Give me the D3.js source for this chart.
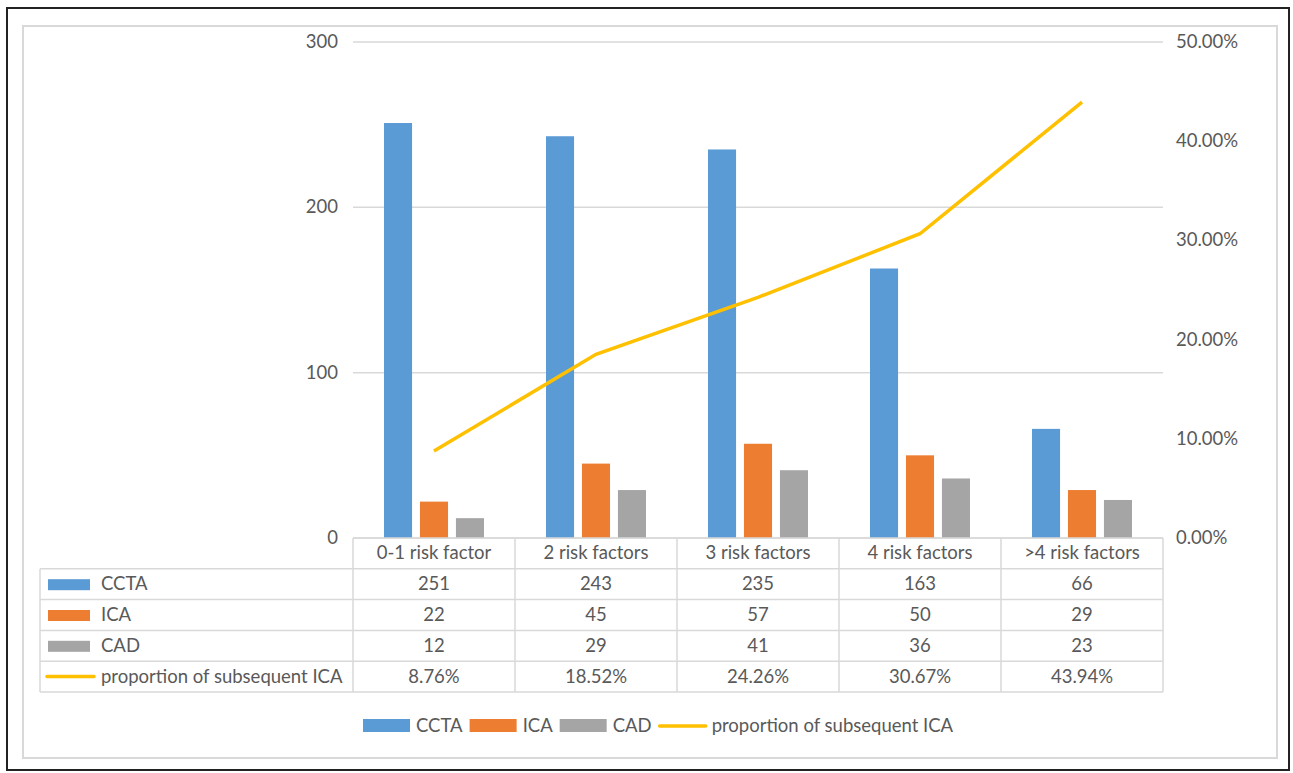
<!DOCTYPE html>
<html>
<head>
<meta charset="utf-8">
<script src="https://cdn.jsdelivr.net/npm/d3@7"></script>
<style>
  body { margin: 0; background: #fff; }
  svg text { font-family: Lato, "Open Sans", sans-serif; fill: #595959; }
</style>
</head>
<body>
<svg width="1293" height="773"></svg>
<script>
const categories = ['0-1 risk factor', '2 risk factors', '3 risk factors', '4 risk factors', '>4 risk factors'];
const ccta = [251, 243, 235, 163, 66];
const ica = [22, 45, 57, 50, 29];
const cad = [12, 29, 41, 36, 23];
const proportion = [0.0876, 0.1852, 0.2426, 0.3067, 0.4394];
const leftTicks = [0, 100, 200, 300];
const rightTicks = [0, 0.1, 0.2, 0.3, 0.4, 0.5];

const series = [
  { name: 'CCTA', values: ccta, color: '#5b9bd5' },
  { name: 'ICA', values: ica, color: '#ed7d31' },
  { name: 'CAD', values: cad, color: '#a5a5a5' },
];
const lineColor = '#ffc000';
const fontSize = '18.5px';

const svg = d3.select('svg');
const gridColor = '#d9d9d9';

// frames
svg.append('rect').attr('x', 7).attr('y', 8).attr('width', 1282).attr('height', 762)
  .style('fill', 'none').style('stroke', '#222').style('stroke-width', '2px');
svg.append('rect').attr('x', 23).attr('y', 26).attr('width', 1254).attr('height', 732)
  .style('fill', 'none').style('stroke', '#d9d9d9').style('stroke-width', '2px');

const x0 = 353, x1 = 1163, yTop = 42, yBase = 538;

const x = d3.scaleBand().domain(categories).range([x0, x1]);
const xs = d3.scaleBand().domain(series.map(d => d.name)).range([0, 100]).paddingInner(0.22);
const y = d3.scaleLinear().domain([0, 300]).range([yBase, yTop]);
const y2 = d3.scaleLinear().domain([0, 0.5]).range([yBase, yTop]);

// gridlines
svg.selectAll('line.grid')
  .data(leftTicks)
  .enter()
  .append('line')
  .attr('class', 'grid')
  .attr('x1', x0).attr('x2', x1)
  .attr('y1', d => y(d)).attr('y2', d => y(d))
  .style('stroke', gridColor).style('stroke-width', '1.5px');

// left axis labels
svg.selectAll('text.ltick')
  .data(leftTicks)
  .enter()
  .append('text')
  .attr('class', 'ltick')
  .attr('x', 338).attr('y', d => y(d) + 6)
  .style('text-anchor', 'end').style('font-size', fontSize)
  .text(d => d);

// right axis labels
svg.selectAll('text.rtick')
  .data(rightTicks)
  .enter()
  .append('text')
  .attr('class', 'rtick')
  .attr('x', 1176).attr('y', d => y2(d) + 6)
  .style('font-size', fontSize)
  .text(d => d3.format('.2%')(d));

// bars
const group = svg.selectAll('g.cat')
  .data(categories)
  .enter()
  .append('g')
  .attr('class', 'cat')
  .attr('transform', d => `translate(${x(d) + (x.bandwidth() - 100) / 2},0)`);

series.forEach((s) => {
  group.append('rect')
    .attr('x', xs(s.name))
    .attr('width', xs.bandwidth())
    .attr('y', (d, i) => y(s.values[i]))
    .attr('height', (d, i) => yBase - y(s.values[i]))
    .style('fill', s.color);
});

// line
const line = d3.line()
  .x((d, i) => x(categories[i]) + x.bandwidth() / 2)
  .y(d => y2(d));
svg.append('path')
  .datum(proportion)
  .attr('d', line)
  .style('fill', 'none')
  .style('stroke', lineColor)
  .style('stroke-width', '3.5px');

// data table
const rowH = 30.8;
const tableLeft = 40;
const rows = [
  ...series.map(s => ({ name: s.name, color: s.color, cells: s.values.map(String), type: 'bar' })),
  { name: 'proportion of subsequent ICA', color: lineColor, cells: proportion.map(d => d3.format('.2%')(d)), type: 'line' },
];
const tableG = svg.append('g');
const tableBottom = yBase + rowH * (rows.length + 1);

// horizontal lines
const hLines = d3.range(rows.length + 2).map(i => yBase + i * rowH);
tableG.selectAll('line.h')
  .data(hLines)
  .enter()
  .append('line')
  .attr('x1', (d, i) => (i === 0 ? x0 : tableLeft))
  .attr('x2', x1)
  .attr('y1', d => d).attr('y2', d => d)
  .style('stroke', gridColor).style('stroke-width', '1.5px');

// vertical lines
const vLines = [x0, ...categories.map(c => x(c) + x.bandwidth())];
tableG.selectAll('line.v')
  .data(vLines)
  .enter()
  .append('line')
  .attr('x1', d => d).attr('x2', d => d)
  .attr('y1', yBase).attr('y2', tableBottom)
  .style('stroke', gridColor).style('stroke-width', '1.5px');
tableG.append('line')
  .attr('x1', tableLeft).attr('x2', tableLeft)
  .attr('y1', yBase + rowH).attr('y2', tableBottom)
  .style('stroke', gridColor).style('stroke-width', '1.5px');

// header labels
tableG.selectAll('text.head')
  .data(categories)
  .enter()
  .append('text')
  .attr('x', d => x(d) + x.bandwidth() / 2)
  .attr('y', yBase + rowH / 2 + 6)
  .style('text-anchor', 'middle').style('font-size', fontSize)
  .text(d => d);

rows.forEach((r, ri) => {
  const ry = yBase + rowH * (ri + 1);
  if (r.type === 'bar') {
    tableG.append('rect')
      .attr('x', 48).attr('y', ry + rowH / 2 - 5)
      .attr('width', 42).attr('height', 11)
      .style('fill', r.color);
  } else {
    tableG.append('line')
      .attr('x1', 47).attr('x2', 94)
      .attr('y1', ry + rowH / 2).attr('y2', ry + rowH / 2)
      .style('stroke', r.color).style('stroke-width', '3.5px')
      .style('stroke-linecap', 'round');
  }
  tableG.append('text')
    .attr('x', 101).attr('y', ry + rowH / 2 + 6)
    .style('font-size', fontSize)
    .text(r.name);
  tableG.selectAll(null)
    .data(r.cells)
    .enter()
    .append('text')
    .attr('x', (d, i) => x(categories[i]) + x.bandwidth() / 2)
    .attr('y', ry + rowH / 2 + 6)
    .style('text-anchor', 'middle').style('font-size', fontSize)
    .text(d => d);
});

// legend
const legendItems = [
  ...series.map(s => ({ name: s.name, color: s.color, type: 'bar' })),
  { name: 'proportion of subsequent ICA', color: lineColor, type: 'line' },
];
const legend = svg.append('g').attr('transform', 'translate(363,726)');
let lx = 0;
legendItems.forEach((item) => {
  if (item.type === 'bar') {
    legend.append('rect').attr('x', lx).attr('y', -7).attr('width', 47).attr('height', 13)
      .style('fill', item.color);
  } else {
    legend.append('line').attr('x1', lx + 1).attr('x2', lx + 47).attr('y1', 0).attr('y2', 0)
      .style('stroke', item.color).style('stroke-width', '3.5px').style('stroke-linecap', 'round');
  }
  const t = legend.append('text')
    .attr('x', lx + 53).attr('y', 6)
    .style('font-size', fontSize)
    .text(item.name);
  lx += 53 + t.node().getComputedTextLength() + 7;
});
</script>
</body>
</html>
